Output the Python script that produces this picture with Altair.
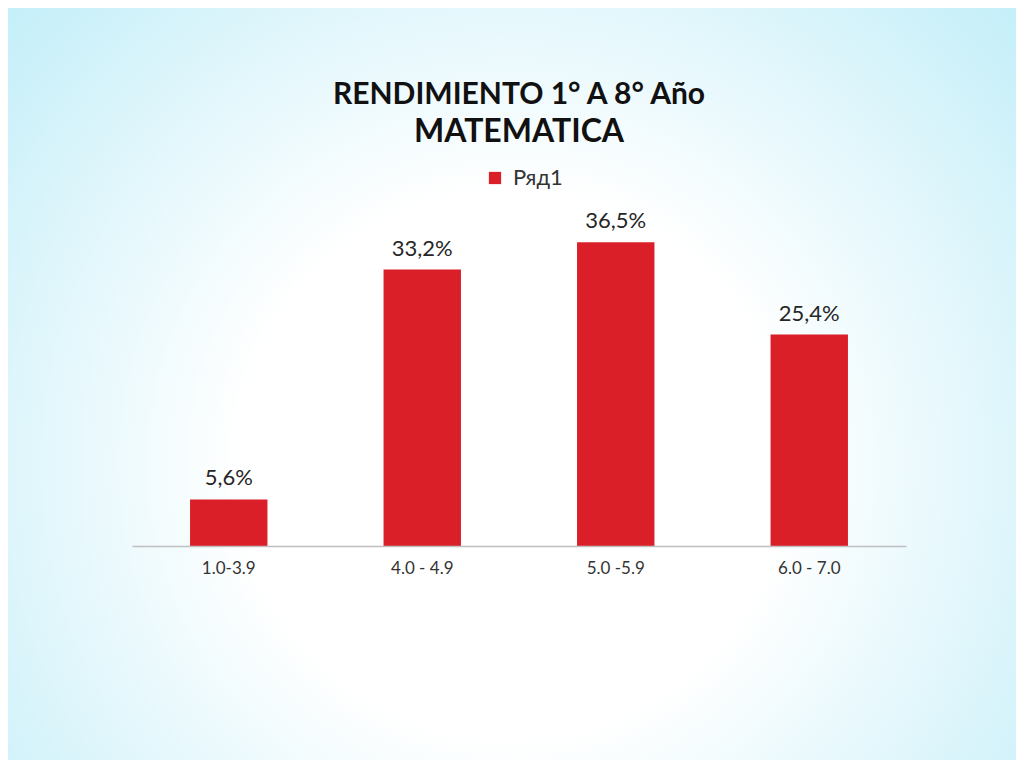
import altair as alt
import pandas as pd

categories = ["1.0-3.9", "4.0 - 4.9", "5.0 -5.9", "6.0 - 7.0"]
values = [5.6, 33.2, 36.5, 25.4]
series = ["Ряд1"] * 4

df = pd.DataFrame({"cat": categories, "val": values, "serie": series})

W, H = 774, 333
PAD = {"left": 124, "right": 110, "top": 205, "bottom": 214}

bg = alt.Chart(pd.DataFrame({"a": [0]})).mark_rect(
    fill={
        "gradient": "radial",
        "x1": 0.5, "y1": 0.58, "r1": 0,
        "x2": 0.5, "y2": 0.58, "r2": 0.75,
        "stops": [
            {"offset": 0, "color": "#ffffff"},
            {"offset": 0.36, "color": "#ffffff"},
            {"offset": 0.68, "color": "#dcf5fb"},
            {"offset": 1, "color": "#b9ecf8"},
        ],
    }
).encode(
    x=alt.value(-PAD["left"]), x2=alt.value(W + PAD["right"]),
    y=alt.value(-PAD["top"]), y2=alt.value(H + PAD["bottom"]),
)

base = alt.Chart(df)

xenc = alt.X("cat:N", sort=categories, title=None,
             scale=alt.Scale(paddingInner=0.6, paddingOuter=0.3),
             axis=alt.Axis(labelAngle=0, domainColor="#bfbfbf", domainWidth=1.3,
                           ticks=False, labelPadding=14, labelFontSize=17,
                           labelColor="#333333", labelFont="Lato", grid=False,
                           zindex=1))
yenc = alt.Y("val:Q", scale=alt.Scale(domain=[0, 40]), axis=None)

bars = base.mark_bar(color="#da1f28").encode(
    x=xenc, y=yenc,
    color=alt.Color("serie:N", scale=alt.Scale(range=["#da1f28"]),
                    legend=alt.Legend(title=None, orient="none", legendX=352, legendY=-46,
                                      symbolType="square", symbolSize=150,
                                      symbolStrokeWidth=0, labelOffset=7,
                                      labelFontSize=22, labelFont="Lato",
                                      labelColor="#333333")),
)

labels = base.transform_calculate(
    lab="replace(format(datum.val, '.1f'), '.', ',') + '%'"
).mark_text(baseline="bottom", dy=-9, fontSize=22, font="Lato", color="#262626").encode(
    x=alt.X("cat:N", sort=categories), y=yenc, text="lab:N"
)

chart = alt.layer(bg, bars, labels).properties(
    width=W, height=H,
    autosize=alt.AutoSizeParams(type="none"),
    padding=PAD,
    title=alt.TitleParams(
        text="RENDIMIENTO 1° A 8° Año",
        subtitle="MATEMATICA",
        anchor="middle",
        font="Lato", fontSize=30, fontWeight="bold", color="#111111",
        subtitleFont="Lato", subtitleFontSize=32, subtitleFontWeight="bold",
        subtitleColor="#111111", subtitlePadding=7,
        offset=-140,
    ),
).configure_view(stroke=None)

chart.save("out.html", embed_options={"renderer": "svg", "actions": False})
